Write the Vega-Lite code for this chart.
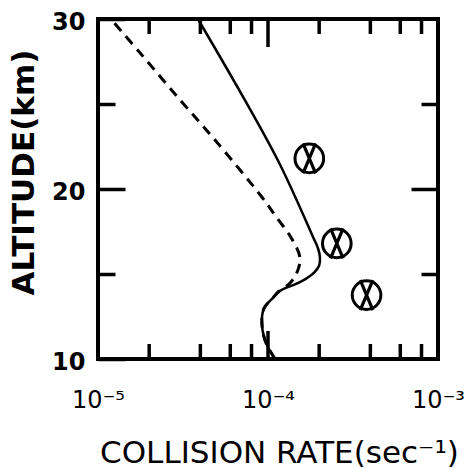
{
  "$schema": "https://vega.github.io/schema/vega-lite/v6.json",
  "width": 340,
  "height": 340,
  "autosize": {"type": "none"},
  "padding": {"left": 98, "top": 19, "right": 33, "bottom": 109},
  "background": "white",
  "config": {
    "view": {"stroke": "black", "strokeWidth": 4},
    "axis": {"grid": false, "domain": false, "tickColor": "black", "tickWidth": 3.5, "labelColor": "black", "titleColor": "black", "labelFont": "DejaVu Sans", "titleFont": "DejaVu Sans"}
  },
  "datasets": {
    "solid": [
      {"alt": 30, "rate": 3.87e-5},
      {"alt": 25.24, "rate": 7.3e-5},
      {"alt": 21.41, "rate": 1.18e-4},
      {"alt": 17.18, "rate": 1.84e-4},
      {"alt": 16.5, "rate": 1.97e-4},
      {"alt": 16.0, "rate": 2.02e-4},
      {"alt": 15.5, "rate": 2.0e-4},
      {"alt": 15.06, "rate": 1.86e-4},
      {"alt": 14.7, "rate": 1.66e-4},
      {"alt": 14.4, "rate": 1.45e-4},
      {"alt": 14.06, "rate": 1.2e-4},
      {"alt": 13.6, "rate": 1.07e-4},
      {"alt": 13.0, "rate": 9.5e-5},
      {"alt": 12.3, "rate": 9.2e-5},
      {"alt": 11.1, "rate": 9.6e-5},
      {"alt": 10.0, "rate": 1.1e-4}
    ],
    "dashed": [
      {"alt": 30, "rate": 1.19e-5},
      {"alt": 28.0, "rate": 1.77e-5},
      {"alt": 25.24, "rate": 3.04e-5},
      {"alt": 22.88, "rate": 4.88e-5},
      {"alt": 19.53, "rate": 9.2e-5},
      {"alt": 18.29, "rate": 1.13e-4},
      {"alt": 17.18, "rate": 1.36e-4},
      {"alt": 16.0, "rate": 1.54e-4},
      {"alt": 15.24, "rate": 1.5e-4},
      {"alt": 14.47, "rate": 1.35e-4},
      {"alt": 13.96, "rate": 1.15e-4},
      {"alt": 13.6, "rate": 1.07e-4},
      {"alt": 13.0, "rate": 9.5e-5},
      {"alt": 12.3, "rate": 9.2e-5},
      {"alt": 11.1, "rate": 9.6e-5},
      {"alt": 10.0, "rate": 1.1e-4}
    ],
    "obs": [
      {"alt": 21.8, "rate": 1.75e-4},
      {"alt": 16.8, "rate": 2.54e-4},
      {"alt": 13.76, "rate": 3.8e-4}
    ],
    "xticks": [
      {"rate": 0.00002, "alt": 10, "kind": "minor"}, {"rate": 0.00004, "alt": 10, "kind": "minor"}, {"rate": 0.00006, "alt": 10, "kind": "minor"}, {"rate": 0.00008, "alt": 10, "kind": "minor"},
      {"rate": 0.0001, "alt": 10, "kind": "major"},
      {"rate": 0.0002, "alt": 10, "kind": "minor"}, {"rate": 0.0004, "alt": 10, "kind": "minor"}, {"rate": 0.0006, "alt": 10, "kind": "minor"}, {"rate": 0.0008, "alt": 10, "kind": "minor"},
      {"rate": 0.00002, "alt": 30, "kind": "minor"}, {"rate": 0.00004, "alt": 30, "kind": "minor"}, {"rate": 0.00006, "alt": 30, "kind": "minor"}, {"rate": 0.00008, "alt": 30, "kind": "minor"},
      {"rate": 0.0001, "alt": 30, "kind": "major"},
      {"rate": 0.0002, "alt": 30, "kind": "minor"}, {"rate": 0.0004, "alt": 30, "kind": "minor"}, {"rate": 0.0006, "alt": 30, "kind": "minor"}, {"rate": 0.0008, "alt": 30, "kind": "minor"}
    ]
  },
  "layer": [
    {
      "data": {"name": "xticks"},
      "mark": {"type": "point", "shape": "M0,-1L0,1", "strokeWidth": 3.5, "filled": false, "color": "black", "opacity": 1, "clip": true},
      "encoding": {
        "x": {
          "field": "rate", "type": "quantitative",
          "scale": {"type": "log", "domain": [0.00001, 0.001], "nice": false},
          "axis": {
            "orient": "bottom",
            "values": [0.00001, 0.0001, 0.001],
            "ticks": false,
            "labelExpr": "datum.value < 0.00005 ? '10⁻⁵' : datum.value < 0.0005 ? '10⁻⁴' : '10⁻³'",
            "labelFontSize": 24,
            "labelBaseline": "alphabetic",
            "labelAlign": "center",
            "labelPadding": 48,
            "labelFlush": false,
            "labelOverlap": false,
            "title": "COLLISION RATE(sec⁻¹)",
            "titleFontSize": 31,
            "titleFontWeight": "normal",
            "titleX": 181,
            "titleY": 103,
            "titleBaseline": "alphabetic",
            "titleAlign": "center"
          }
        },
        "y": {
          "field": "alt", "type": "quantitative",
          "scale": {"domain": [10, 30], "nice": false, "zero": false},
          "axis": {
            "orient": "left",
            "values": [10, 20, 30],
            "tickSize": -27,
            "labelFontSize": 24,
            "labelFontWeight": "bold",
            "labelPadding": 40,
            "labelOffset": 3,
            "labelBaseline": "middle",
            "labelFlush": false,
            "labelOverlap": false,
            "title": "ALTITUDE(km)",
            "titleFontSize": 31,
            "titleFontWeight": "bold",
            "titleAngle": -90,
            "titleX": -65,
            "titleY": 153,
            "titleBaseline": "alphabetic",
            "titleAlign": "center"
          }
        },
        "size": {"field": "kind", "type": "nominal", "scale": {"domain": ["minor", "major"], "range": [900, 3136]}, "legend": null}
      }
    },
    {
      "data": {"name": "solid"},
      "mark": {"type": "line", "color": "black", "strokeWidth": 2.5, "interpolate": "catmull-rom"},
      "encoding": {
        "x": {"field": "rate", "type": "quantitative", "scale": {"type": "log", "domain": [0.00001, 0.001], "nice": false}, "axis": null},
        "y": {
          "field": "alt", "type": "quantitative",
          "scale": {"domain": [10, 30], "nice": false, "zero": false},
          "axis": {"orient": "right", "values": [20], "tickSize": -27, "labels": false, "title": null}
        },
        "order": {"field": "alt", "type": "quantitative"}
      }
    },
    {
      "data": {"name": "dashed"},
      "mark": {"type": "line", "color": "black", "strokeWidth": 3, "strokeDash": [10, 7], "interpolate": "catmull-rom"},
      "encoding": {
        "x": {"field": "rate", "type": "quantitative", "scale": {"type": "log", "domain": [0.00001, 0.001], "nice": false}, "axis": null},
        "y": {
          "field": "alt", "type": "quantitative",
          "scale": {"domain": [10, 30], "nice": false, "zero": false},
          "axis": {"orient": "left", "values": [15, 25], "tickSize": -17, "labels": false, "title": null}
        },
        "order": {"field": "alt", "type": "quantitative"}
      }
    },
    {
      "data": {"name": "obs"},
      "mark": {"type": "point", "shape": "circle", "size": 820, "filled": false, "color": "black", "strokeWidth": 3, "opacity": 1},
      "encoding": {
        "x": {"field": "rate", "type": "quantitative", "scale": {"type": "log", "domain": [0.00001, 0.001], "nice": false}, "axis": null},
        "y": {
          "field": "alt", "type": "quantitative",
          "scale": {"domain": [10, 30], "nice": false, "zero": false},
          "axis": {"orient": "right", "values": [15, 25], "tickSize": -17, "labels": false, "title": null}
        }
      }
    },
    {
      "data": {"name": "obs"},
      "mark": {"type": "point", "shape": "M-0.42,-1L0.42,1M0.42,-1L-0.42,1", "size": 900, "filled": false, "color": "black", "strokeWidth": 3.2, "opacity": 1},
      "encoding": {
        "x": {"field": "rate", "type": "quantitative", "scale": {"type": "log", "domain": [0.00001, 0.001], "nice": false}, "axis": null},
        "y": {"field": "alt", "type": "quantitative", "scale": {"domain": [10, 30], "nice": false, "zero": false}, "axis": null}
      }
    }
  ],
  "resolve": {"axis": {"x": "independent", "y": "independent"}}
}
